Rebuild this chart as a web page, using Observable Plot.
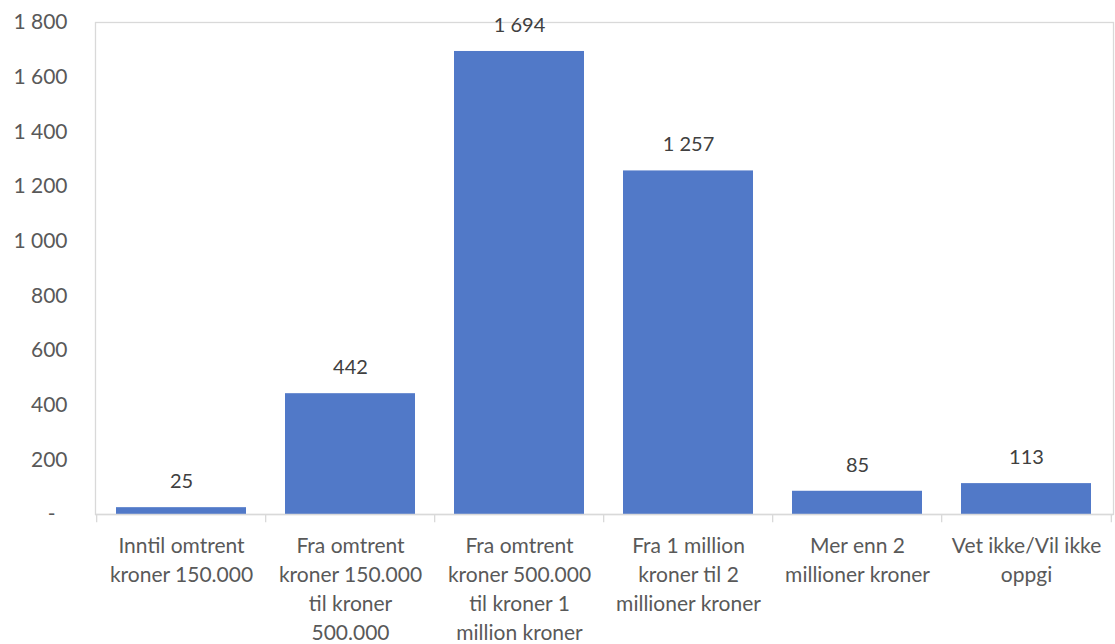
<!DOCTYPE html>
<html><head><meta charset="utf-8">
<script src="https://cdn.jsdelivr.net/npm/d3@7"></script>
<script src="https://cdn.jsdelivr.net/npm/@observablehq/plot@0.6"></script>
<style>
body{margin:0;background:#fff;}
svg{font-family:Lato,"Open Sans",sans-serif;}
</style></head>
<body><div id="chart"></div>
<script>
const categories = [
  "Inntil omtrent\nkroner 150.000",
  "Fra omtrent\nkroner 150.000\ntil kroner\n500.000",
  "Fra omtrent\nkroner 500.000\ntil kroner 1\nmillion kroner",
  "Fra 1 million\nkroner til 2\nmillioner kroner",
  "Mer enn 2\nmillioner kroner",
  "Vet ikke/Vil ikke\noppgi"
];
const values = [25, 442, 1694, 1257, 85, 113];
const yTicks = [200, 400, 600, 800, 1000, 1200, 1400, 1600, 1800];

const data = categories.map((c, i) => ({category: c, value: values[i]}));
const fmt = d3.formatLocale({thousands: "\u00a0", grouping: [3], decimal: ",", currency: ["", ""]}).format(",");

const W = 1115, H = 644, mL = 95, mR = 2;
const step = (W - mL - mR) / categories.length;

const chart = Plot.plot({
  width: W, height: H,
  marginLeft: mL, marginRight: mR, marginTop: 22, marginBottom: 130,
  style: {fontSize: "21px", color: "#595959", fontFamily: "Lato, 'Open Sans', sans-serif"},
  x: {type: "band", domain: categories, paddingInner: 0.23, paddingOuter: 0.115, label: null},
  y: {domain: [0, 1800], label: null},
  marks: [
    Plot.frame({stroke: "#d9d9d9", strokeWidth: 1.3}),
    Plot.barY(data, {x: "category", y: "value", fill: "#5179c8"}),
    Plot.ruleX(categories, {x: d => d, dx: -step / 2, y1: 0, y2: -30, stroke: "#d9d9d9", strokeWidth: 1.3}),
    Plot.ruleX([categories[categories.length - 1]], {x: d => d, dx: step / 2, y1: 0, y2: -30, stroke: "#d9d9d9", strokeWidth: 1.3}),
    Plot.ruleY([0], {stroke: "#d9d9d9", strokeWidth: 1.3}),
    Plot.text(data, {x: "category", y: "value", text: d => fmt(d.value), dy: -26, fill: "#404040", fontSize: 20}),
    Plot.axisY({ticks: yTicks, tickFormat: d => fmt(d), tickSize: 0, tickPadding: 28, fill: "#595959", fontSize: 21, label: null}),
    Plot.axisY({ticks: [0], tickFormat: () => "-", tickSize: 0, tickPadding: 40, fill: "#595959", fontSize: 21, label: null}),
    Plot.axisX({tickSize: 0, tickPadding: 18, lineHeight: 1.38, fill: "#595959", fontSize: 21, label: null})
  ]
});
document.getElementById("chart").appendChild(chart);
</script>
</body></html>
